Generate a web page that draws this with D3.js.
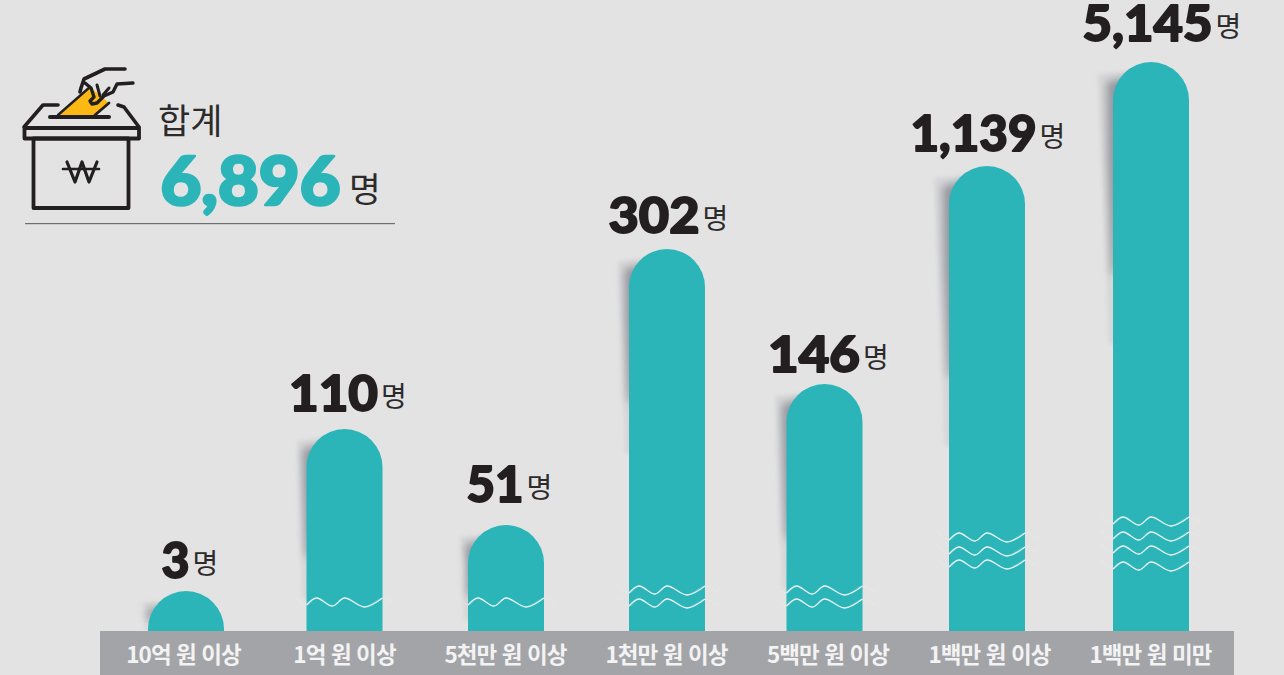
<!DOCTYPE html>
<html lang="ko"><head><meta charset="utf-8">
<script src="https://cdn.jsdelivr.net/npm/d3@7"></script>
<style>html,body{margin:0;padding:0;background:#e3e3e3;overflow:hidden}svg{display:block}</style>
</head><body><svg id="c" width="1284" height="675"></svg>
<script>
// data
const categories = ["10억 원 이상","1억 원 이상","5천만 원 이상","1천만 원 이상","5백만 원 이상","1백만 원 이상","1백만 원 미만"];
const values = [3,110,51,302,146,1139,5145];
const breakCounts = [0,1,1,2,2,3,4];
const totalValue = 6896;
const totalLabel = "합계";
const unit = "명";

// layout (the chart is a hand-drawn broken axis, so the scale is piecewise)
const W=1284,H=675,baseline=631,barW=76,teal="#2bb5b9",dark="#231f20";
const x=d3.scaleOrdinal().domain(categories).range([186,344.5,506,667,824.5,987,1151]);
const sorted=[0,...values.slice().sort(d3.ascending)];
const y=d3.scaleLinear().domain(sorted).range([631,591,525,429,384,249,166,62]);
const labelDx=[-3,-0.5,-1,-1,3,2,-1];
const numberRight=[4,34,18,33,36,50,62];
const numberWidth=[28,89,57,91,92,126,130];
const numberBase=[-13,-18,-23,-16,-12,-15,-21];
const breakTops=[[],[602],[602],[590,603],[590,603],[537,551,564],[521,536,550,566]];
const shadowLen=[38,170,95,204,206,280,282];

const svg=d3.select("#c");
svg.append("rect").attr("width",W).attr("height",H).attr("fill","#e3e3e3");
const defs=svg.append("defs");
defs.append("filter").attr("id","b1").attr("x","-100%").attr("y","-20%").attr("width","300%").attr("height","140%")
  .append("feGaussianBlur").attr("stdDeviation",4);
defs.append("filter").attr("id","b2").attr("x","-100%").attr("y","-20%").attr("width","300%").attr("height","140%")
  .append("feGaussianBlur").attr("stdDeviation",2);

// shadows
const shadow=svg.append("g");
categories.forEach((c,i)=>{
  const x0=x(c)-barW/2,t=y(values[i]),L=shadowLen[i],s=Math.min(L/280,1);
  const bottom=Math.min(t+L,baseline);
  shadow.append("path").attr("d",d3.line()([[x0+22,t+10],[x0-15*Math.max(s,.5),t+12],[x0-10*s,t+L*.4],[x0-4,bottom],[x0+4,bottom]]))
    .attr("fill","#a5a7ad").attr("opacity",.22).attr("filter","url(#b2)");
  shadow.append("path").attr("d",d3.line()([[x0+22,t+14],[x0-6*Math.max(s,.5),t+20],[x0-5*s,t+L*.35],[x0-1,t+L*.75],[x0+4,t+L*.75]]))
    .attr("fill","#777a84").attr("opacity",.7).attr("filter","url(#b1)");
});

// bars
svg.append("g").selectAll("path").data(categories).join("path")
  .attr("fill",teal)
  .attr("d",(c,i)=>{
    const x0=x(c)-barW/2,t=y(values[i]),r=barW/2;
    const p=d3.path();
    p.moveTo(x0,baseline);p.lineTo(x0,t+r);
    p.arcTo(x0,t,x0+r,t,r);p.arcTo(x0+barW,t,x0+barW,t+r,r);
    p.lineTo(x0+barW,baseline);p.closePath();return p.toString();
  });

// axis-break waves
const waveShape=[[-12,-9],[0,0],[10,-7],[26,1],[38,-7],[58,2],[76,-7],[88,-1]];
const wave=d3.line().curve(d3.curveCatmullRom.alpha(.5));
const waves=svg.append("g").attr("fill","none");
categories.forEach((c,i)=>{
  const x0=x(c)-barW/2;
  breakTops[i].forEach(v=>{
    const pts=waveShape.map(p=>[x0+p[0],v+3+p[1]]);
    waves.append("path").attr("d",wave(pts)).attr("stroke","#ffffff").attr("stroke-opacity",.16).attr("stroke-width",1.1);
    const inner=waveShape.slice(1,7).map(p=>[x0+p[0],v+3+p[1]]);
    waves.append("path").attr("d",wave(inner)).attr("stroke","#e9f2f2").attr("stroke-width",1.3);
  });
});

// category band and axis
svg.append("rect").attr("x",100).attr("y",baseline).attr("width",1134).attr("height",44).attr("fill","#a3a4a8");
const axis=svg.append("g").attr("transform",`translate(0,${baseline})`).call(d3.axisBottom(x).tickSize(0));
axis.select(".domain").remove();
axis.selectAll("text").attr("dy",0).attr("y",32).attr("dx",(c,i)=>labelDx[i])
  .attr("fill","#f3f3f3").attr("font-family","'Noto Sans CJK KR'").attr("font-size",22.5)
  .attr("font-weight",700).attr("letter-spacing",-0.9).attr("text-anchor","middle");

// value labels
const fmt=d3.format(",");
const labels=svg.append("g");
categories.forEach((c,i)=>{
  const xr=x(c)+numberRight[i],by=y(values[i])+numberBase[i];
  labels.append("text").attr("x",xr-.5).attr("y",by-.5).attr("text-anchor","end")
    .attr("font-family","Lato").attr("font-weight",900).attr("font-size",49)
    .attr("fill",dark).attr("stroke",dark).attr("stroke-width",1.8).attr("stroke-linejoin","round")
    .attr("textLength",numberWidth[i]).attr("lengthAdjust","spacingAndGlyphs").text(fmt(values[i]));
  labels.append("text").attr("x",xr+2.5).attr("y",by-4.5).attr("font-family","'Noto Sans CJK KR'")
    .attr("font-weight",400).attr("font-size",28).attr("fill","#2c2a2b").text(unit);
});

// total block
svg.append("text").attr("x",158).attr("y",134).attr("font-family","'Noto Sans CJK KR'").attr("font-weight",400)
  .attr("font-size",35).attr("fill","#2c2a2b").text(totalLabel);
svg.append("text").attr("x",160.5).attr("y",204.5).attr("font-family","Lato").attr("font-weight",900).attr("font-size",66)
  .attr("fill",teal).attr("stroke",teal).attr("stroke-width",2.6).attr("stroke-linejoin","round")
  .attr("textLength",180).attr("lengthAdjust","spacingAndGlyphs").text(fmt(totalValue));
svg.append("text").attr("x",349).attr("y",202).attr("font-family","'Noto Sans CJK KR'").attr("font-weight",400)
  .attr("font-size",34.5).attr("fill","#2c2a2b").text(unit);
svg.append("rect").attr("x",25).attr("y",223).attr("width",370).attr("height",1.2).attr("fill","#6f6f6f");

// ballot box icon
const ic=svg.append("g").attr("fill","none").attr("stroke",dark).attr("stroke-linecap","round").attr("stroke-linejoin","round");
const pl=d3.line();
ic.append("path").attr("d",pl([[58,115],[90,87],[109,103],[95,115]])+"Z").attr("fill","#fdb913").attr("stroke","none");
ic.append("rect").attr("x",24.5).attr("y",128).attr("width",114.5).attr("height",10.5).attr("stroke-width",3.8);
ic.append("rect").attr("x",33.5).attr("y",138.5).attr("width",95).attr("height",69.5).attr("stroke-width",3.8);
ic.append("path").attr("d",pl([[24,127],[43,105],[58,105]])).attr("stroke-width",3.6);
ic.append("path").attr("d",pl([[118,105],[124,107],[139,127]])).attr("stroke-width",3.6);
ic.append("path").attr("d",pl([[50,117],[109,117]])).attr("stroke-width",4);
ic.append("path").attr("d",pl([[58,115],[90,87]])).attr("stroke-width",2.4);
ic.append("path").attr("d",pl([[109,103],[95,115]])).attr("stroke-width",2.8);
ic.append("path").attr("d",pl([[125,69],[105,69],[84,79],[81,88],[80,92]])).attr("stroke-width",3.6);
ic.append("path").attr("d",pl([[133,83],[117,84],[113,92],[104,96],[97,103],[92,104],[90,101],[94,97],[91,88],[85,83]])).attr("stroke-width",3.4);
ic.append("path").attr("d",pl([[97,85],[100,96]])).attr("stroke-width",3);
ic.append("path").attr("d",pl([[109,88],[103,95]])).attr("stroke-width",3);
ic.append("path").attr("d",pl([[67,162],[75,182],[82,162],[89,182],[97,162]])).attr("stroke-width",3.2);
ic.append("path").attr("d",pl([[63,169],[99,169]])).attr("stroke-width",2.6);
</script></body></html>
